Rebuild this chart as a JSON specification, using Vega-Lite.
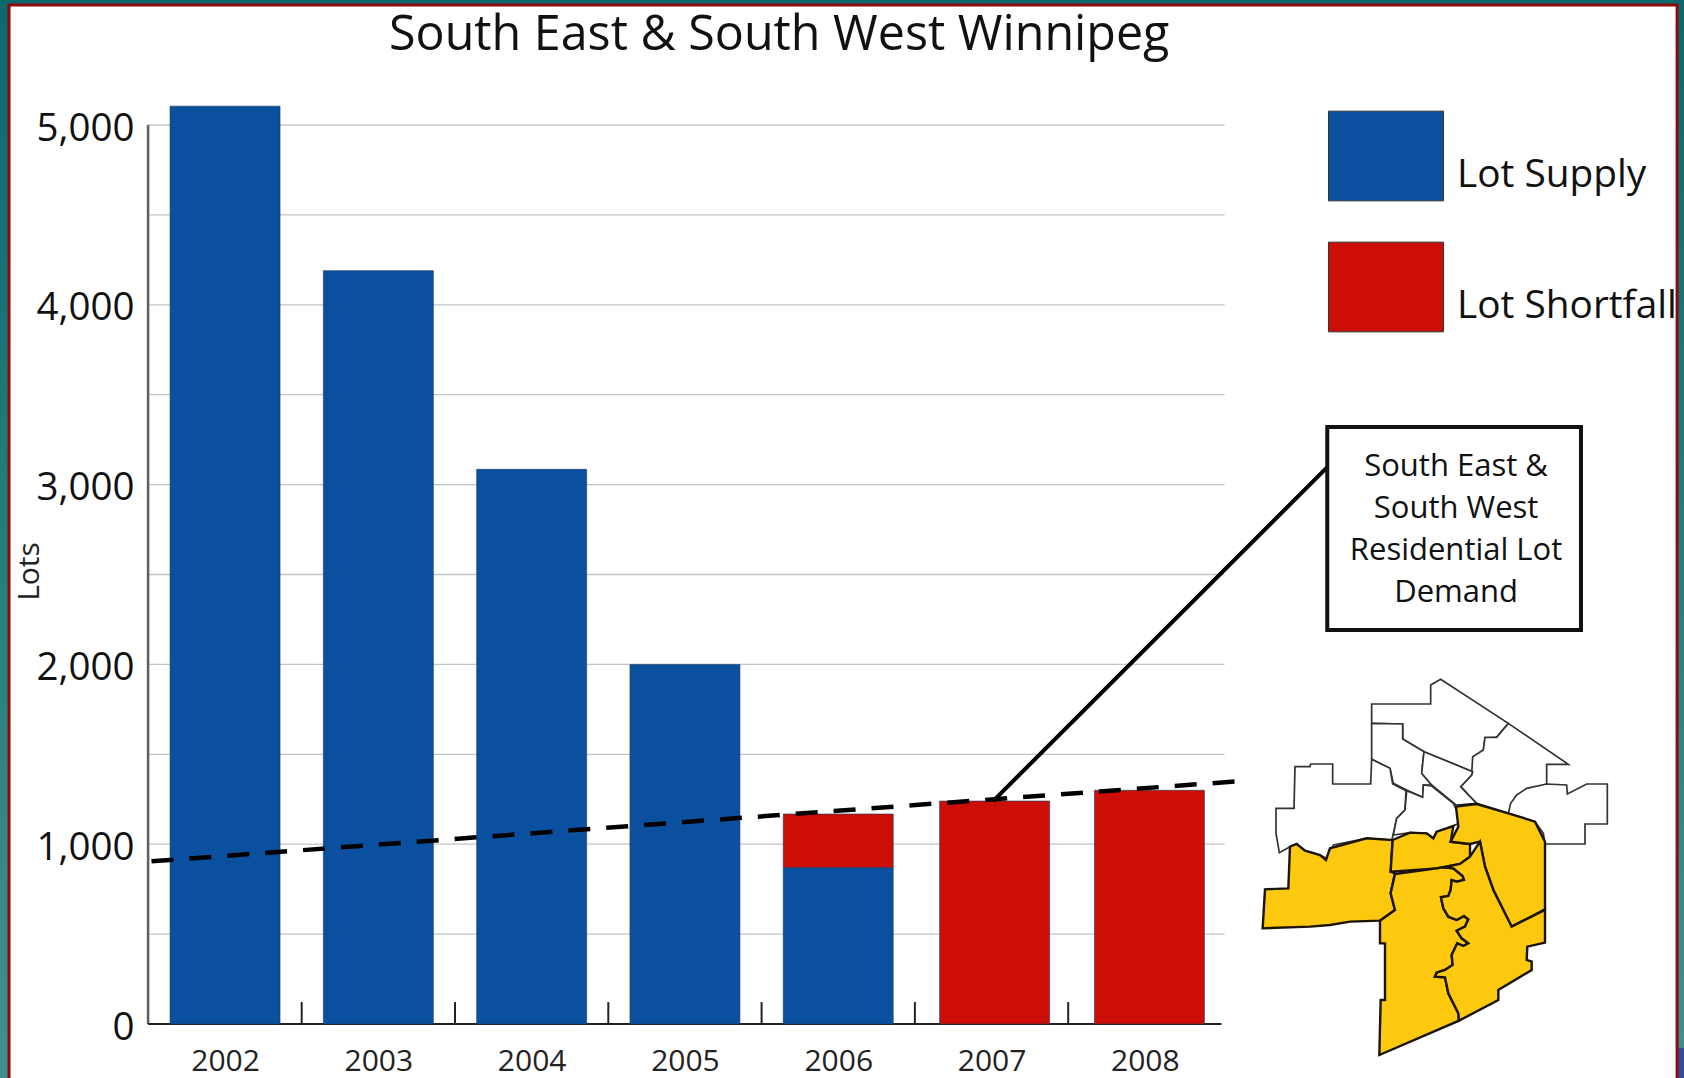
{
  "$schema": "https://vega.github.io/schema/vega-lite/v6.json",
  "width": 1684,
  "height": 1078,
  "padding": 0,
  "autosize": {"type": "none"},
  "background": "#0d6b6e",
  "title": {
    "text": "South East & South West Winnipeg",
    "anchor": "start",
    "frame": "group",
    "orient": "top",
    "offset": 0,
    "dy": 98,
    "dx": 389,
    "baseline": "alphabetic",
    "font": "Open Sans",
    "fontSize": 48.4,
    "fontWeight": "normal",
    "color": "#111111"
  },
  "datasets": {
    "bars": [
      {"year": 2002, "at": 2002.0, "series": "Lot Supply", "lots": 5105, "rank": 1},
      {"year": 2003, "at": 2003.0, "series": "Lot Supply", "lots": 4190, "rank": 1},
      {"year": 2004, "at": 2004.0, "series": "Lot Supply", "lots": 3085, "rank": 1},
      {"year": 2005, "at": 2005.0, "series": "Lot Supply", "lots": 2000, "rank": 1},
      {"year": 2006, "at": 2006.0, "series": "Lot Supply", "lots": 870, "rank": 1},
      {"year": 2006, "at": 2006.0, "series": "Lot Shortfall", "lots": 298, "rank": 2},
      {"year": 2007, "at": 2007.02, "series": "Lot Shortfall", "lots": 1240, "rank": 2},
      {"year": 2008, "at": 2008.03, "series": "Lot Shortfall", "lots": 1300, "rank": 2}
    ],
    "gridlines": [
      {"lots": 500}, {"lots": 1000}, {"lots": 1500}, {"lots": 2000}, {"lots": 2500},
      {"lots": 3000}, {"lots": 3500}, {"lots": 4000}, {"lots": 4500}, {"lots": 5000}
    ],
    "dividers": [
      {"at": 2002.5}, {"at": 2003.5}, {"at": 2004.5}, {"at": 2005.5}, {"at": 2006.5}, {"at": 2007.5}
    ],
    "demand": [
      {"at": 2001.52, "lots": 905},
      {"at": 2008.64, "lots": 1352}
    ],
    "leader": [
      {"at": 2007.01, "lots": 1240},
      {"at": 2009.21, "lots": 3114}
    ],
    "districts": [
      {"type": "Feature", "properties": {"zone": "north", "south": false}, "geometry": {"type": "Polygon", "coordinates": [[[395,190],[395,132],[572,132],[572,75],[602,58],[805,190],[770,232],[735,235],[730,270],[702,290],[698,335],[552,275],[488,237],[488,192],[395,190]]]}},
      {"type": "Feature", "properties": {"zone": "north east", "south": false}, "geometry": {"type": "Polygon", "coordinates": [[[805,190],[985,313],[920,313],[920,372],[830,405],[805,460],[710,430],[690,410],[662,380],[695,345],[698,290],[730,270],[735,232],[770,232],[805,190]]]}},
      {"type": "Feature", "properties": {"zone": "north centre", "south": false}, "geometry": {"type": "Polygon", "coordinates": [[[395,190],[488,192],[488,237],[552,275],[545,340],[575,375],[550,375],[548,412],[500,390],[460,370],[450,325],[395,298],[395,190]]]}},
      {"type": "Feature", "properties": {"zone": "core", "south": false}, "geometry": {"type": "Polygon", "coordinates": [[[552,275],[698,335],[695,345],[662,380],[690,410],[710,430],[648,435],[575,375],[545,340],[552,275]]]}},
      {"type": "Feature", "properties": {"zone": "west", "south": false}, "geometry": {"type": "Polygon", "coordinates": [[[165,320],[210,320],[212,312],[278,312],[278,372],[392,372],[395,298],[450,325],[458,372],[498,392],[495,450],[470,475],[458,530],[455,540],[380,535],[280,555],[265,598],[240,585],[195,572],[170,552],[150,560],[118,578],[108,520],[108,445],[162,445],[165,320]]]}},
      {"type": "Feature", "properties": {"zone": "central", "south": false}, "geometry": {"type": "Polygon", "coordinates": [[[500,392],[548,412],[550,375],[575,378],[640,430],[650,450],[658,490],[620,505],[590,515],[580,535],[560,520],[510,518],[460,525],[470,475],[495,450],[500,392]]]}},
      {"type": "Feature", "properties": {"zone": "east", "south": false}, "geometry": {"type": "Polygon", "coordinates": [[[805,460],[812,430],[830,405],[860,385],[920,372],[980,375],[982,402],[1040,372],[1102,372],[1102,492],[1035,492],[1035,552],[915,552],[910,520],[885,485],[805,460]]]}},
      {"type": "Feature", "properties": {"zone": "south west", "south": true}, "geometry": {"type": "Polygon", "coordinates": [[[150,560],[170,552],[195,572],[240,585],[258,600],[270,565],[380,535],[458,540],[452,635],[465,640],[452,700],[465,750],[420,782],[330,785],[270,795],[210,800],[68,805],[75,688],[145,685],[150,560]]]}},
      {"type": "Feature", "properties": {"zone": "fort garry", "south": true}, "geometry": {"type": "Polygon", "coordinates": [[[458,540],[510,518],[560,520],[580,535],[590,515],[640,498],[632,545],[690,552],[690,590],[660,612],[590,625],[452,635],[458,540]]]}},
      {"type": "Feature", "properties": {"zone": "st vital", "south": true}, "geometry": {"type": "Polygon", "coordinates": [[[648,440],[710,432],[805,460],[885,485],[915,545],[915,748],[815,800],[760,690],[735,620],[720,545],[690,552],[632,545],[655,500],[648,440]]]}},
      {"type": "Feature", "properties": {"zone": "south river west", "south": true}, "geometry": {"type": "Polygon", "coordinates": [[[465,642],[590,625],[610,622],[640,625],[668,648],[672,660],[650,665],[635,660],[632,690],[625,708],[603,712],[610,745],[625,770],[650,780],[672,768],[685,778],[675,800],[650,812],[665,835],[685,850],[670,858],[652,850],[635,885],[638,915],[615,930],[590,938],[585,950],[615,952],[625,1000],[655,1060],[657,1082],[418,1185],[422,1020],[435,1020],[435,850],[420,850],[420,782],[465,750],[452,700],[465,642]]]}},
      {"type": "Feature", "properties": {"zone": "south river east", "south": true}, "geometry": {"type": "Polygon", "coordinates": [[[690,590],[720,545],[735,620],[760,690],[815,800],[915,750],[915,848],[862,860],[860,900],[875,905],[875,930],[775,990],[775,1020],[657,1082],[655,1060],[625,1000],[615,952],[585,950],[590,938],[615,930],[638,915],[635,885],[652,850],[670,858],[685,850],[665,835],[650,812],[675,800],[685,778],[672,768],[650,780],[625,770],[610,745],[603,712],[625,708],[632,690],[635,660],[650,665],[672,660],[668,648],[640,625],[610,622],[660,612],[690,590]]]}}
    ]
  },
  "layer": [
    {
      "description": "Teal slide backdrop, carrying the year and lot axes",
      "data": {"values": [{"x0": 2000.532, "x1": 2011.517, "y0": -300.3, "y1": 5695.3}]},
      "mark": {"type": "rect", "fill": {"gradient": "linear", "x1": 0, "y1": 0, "x2": 0, "y2": 1, "stops": [{"offset": 0, "color": "#0b686b"}, {"offset": 1, "color": "#3f918e"}]}},
      "encoding": {
        "x": {
          "field": "x0",
          "type": "quantitative",
          "scale": {"domain": [2000.532, 2011.517], "nice": false, "zero": false, "padding": 0},
          "axis": {
            "orient": "bottom",
            "offset": -54,
            "zindex": 1,
            "values": [2002, 2003, 2004, 2005, 2006, 2007, 2008],
            "format": "d",
            "title": null,
            "domain": false,
            "ticks": false,
            "grid": false,
            "labelFont": "Open Sans",
            "labelFontSize": 30,
            "labelColor": "#222222",
            "labelPadding": 22,
            "labelFlush": false,
            "labelOverlap": false
          }
        },
        "x2": {"field": "x1"},
        "y": {
          "field": "y0",
          "type": "quantitative",
          "scale": {"domain": [-300.3, 5695.3], "nice": false, "zero": false},
          "axis": {
            "orient": "left",
            "offset": -148,
            "zindex": 1,
            "values": [0, 1000, 2000, 3000, 4000, 5000],
            "format": ",d",
            "title": "Lots",
            "titleFont": "Open Sans",
            "titleFontSize": 30,
            "titleFontWeight": "normal",
            "titleColor": "#222222",
            "titleX": -104,
            "titleY": 571,
            "domain": false,
            "ticks": false,
            "grid": false,
            "labelFont": "Open Sans",
            "labelFontSize": 38.5,
            "labelColor": "#111111",
            "labelPadding": 14,
            "labelOffset": 3,
            "labelFlush": false,
            "labelOverlap": false
          }
        },
        "y2": {"field": "y1"}
      }
    },
    {
      "description": "Blue corner of the slide at the lower right",
      "data": {"values": [{"x0": 2011.472, "x1": 2011.517, "y0": -300.3, "y1": -133}]},
      "mark": {"type": "rect", "fill": "#35489a"},
      "encoding": {
        "x": {"field": "x0", "type": "quantitative"},
        "x2": {"field": "x1"},
        "y": {"field": "y0", "type": "quantitative"},
        "y2": {"field": "y1"}
      }
    },
    {
      "description": "Page panel with its dark red frame",
      "data": {"values": [{"x0": 2000.591, "x1": 2011.472, "y0": -340, "y1": 5667}]},
      "mark": {"type": "rect", "fill": "#ffffff", "stroke": "#8c0a0a", "strokeWidth": 3},
      "encoding": {
        "x": {"field": "x0", "type": "quantitative"},
        "x2": {"field": "x1"},
        "y": {"field": "y0", "type": "quantitative"},
        "y2": {"field": "y1"}
      }
    },
    {
      "description": "Horizontal gridlines every 500 lots",
      "data": {"name": "gridlines"},
      "mark": {"type": "rule", "stroke": "#c4c4c4", "strokeWidth": 1.3},
      "encoding": {
        "y": {"field": "lots", "type": "quantitative"},
        "x": {"datum": 2001.498, "type": "quantitative"},
        "x2": {"datum": 2008.52}
      }
    },
    {
      "description": "Value axis line",
      "data": {"values": [{"from": 0, "to": 5000}]},
      "mark": {"type": "rule", "stroke": "#5f5f5f", "strokeWidth": 2.5},
      "encoding": {
        "x": {"datum": 2001.498, "type": "quantitative"},
        "y": {"field": "from", "type": "quantitative"},
        "y2": {"field": "to"}
      }
    },
    {
      "description": "Year baseline",
      "data": {"values": [{"from": 2001.498, "to": 2008.5}]},
      "mark": {"type": "rule", "stroke": "#222222", "strokeWidth": 2},
      "encoding": {
        "y": {"datum": 0, "type": "quantitative"},
        "x": {"field": "from", "type": "quantitative"},
        "x2": {"field": "to"}
      }
    },
    {
      "description": "Ticks separating the years",
      "data": {"name": "dividers"},
      "mark": {"type": "rule", "stroke": "#222222", "strokeWidth": 2},
      "encoding": {
        "x": {"field": "at", "type": "quantitative"},
        "y": {"datum": 0, "type": "quantitative"},
        "y2": {"datum": 122}
      }
    },
    {
      "description": "Stacked lot supply and shortfall",
      "data": {"name": "bars"},
      "mark": {"type": "bar", "size": 110, "stroke": "#1d3a63", "strokeWidth": 1, "strokeOpacity": 0.6},
      "encoding": {
        "x": {"field": "at", "type": "quantitative"},
        "y": {"field": "lots", "type": "quantitative", "stack": "zero"},
        "order": {"field": "rank", "type": "ordinal"},
        "color": {
          "field": "series",
          "type": "nominal",
          "scale": {"domain": ["Lot Supply", "Lot Shortfall"], "range": ["#0b4f9f", "#cc0e06"]},
          "legend": {
            "title": null,
            "orient": "none",
            "legendX": 1328,
            "legendY": 98,
            "symbolType": "M-1,-0.78H1V0.78H-1Z",
            "symbolSize": 13225,
            "symbolStrokeColor": "#333333",
            "symbolStrokeWidth": 1,
            "rowPadding": 26,
            "labelOffset": 13,
            "labelBaseline": "top",
            "labelFont": "Open Sans",
            "labelFontSize": 38.8,
            "labelColor": "#111111",
            "labelLimit": 300,
            "encoding": {"labels": {"update": {"dy": {"signal": "datum.value === 'Lot Shortfall' ? 12 : -1"}}}}
          }
        }
      }
    },
    {
      "description": "Residential lot demand trend",
      "data": {"name": "demand"},
      "mark": {"type": "line", "stroke": "#000000", "strokeWidth": 4.5, "strokeDash": [22, 16]},
      "encoding": {
        "x": {"field": "at", "type": "quantitative"},
        "y": {"field": "lots", "type": "quantitative"}
      }
    },
    {
      "description": "Leader from the demand line to its note",
      "data": {"name": "leader"},
      "mark": {"type": "line", "stroke": "#000000", "strokeWidth": 4},
      "encoding": {
        "x": {"field": "at", "type": "quantitative"},
        "y": {"field": "lots", "type": "quantitative"}
      }
    },
    {
      "description": "Note box for the demand line",
      "data": {"values": [{"x0": 2009.19, "x1": 2010.845, "y0": 2191, "y1": 3320}]},
      "mark": {"type": "rect", "fill": "#ffffff", "stroke": "#111111", "strokeWidth": 4},
      "encoding": {
        "x": {"field": "x0", "type": "quantitative"},
        "x2": {"field": "x1"},
        "y": {"field": "y0", "type": "quantitative"},
        "y2": {"field": "y1"}
      }
    },
    {
      "data": {"values": [{"note": "South East &\nSouth West\nResidential Lot\nDemand", "at": 2010.03, "lots": 3184}]},
      "mark": {"type": "text", "lineBreak": "\n", "lineHeight": 42, "align": "center", "baseline": "top", "font": "Open Sans", "fontSize": 31, "fill": "#111111"},
      "encoding": {
        "x": {"field": "at", "type": "quantitative"},
        "y": {"field": "lots", "type": "quantitative"},
        "text": {"field": "note"}
      }
    },
    {
      "description": "Winnipeg districts, the southern ones highlighted",
      "data": {"name": "districts"},
      "projection": {"type": "identity", "scale": 0.33333, "translate": [1240, 660]},
      "mark": {"type": "geoshape"},
      "encoding": {
        "fill": {"condition": {"test": "datum.properties.south", "value": "#fdc90f"}, "value": "#ffffff"},
        "stroke": {"condition": {"test": "datum.properties.south", "value": "#1a1400"}, "value": "#333333"},
        "strokeWidth": {"condition": {"test": "datum.properties.south", "value": 2.4}, "value": 1.7}
      }
    }
  ]
}
